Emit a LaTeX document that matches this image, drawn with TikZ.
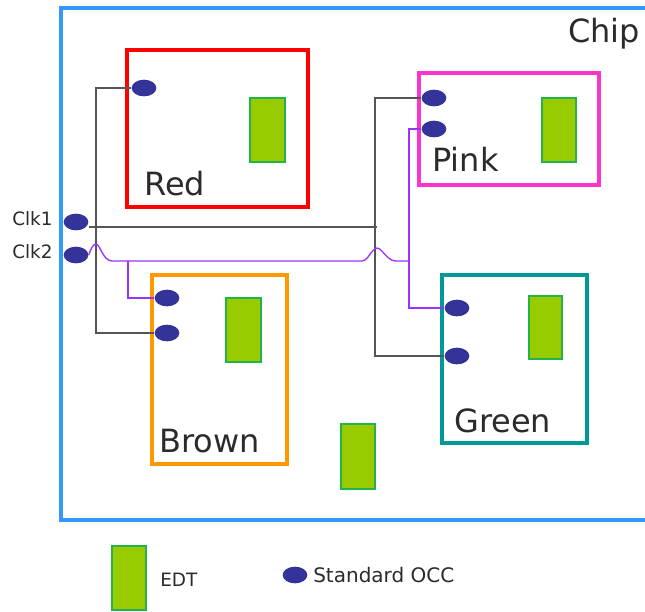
\documentclass[tikz,border=0pt]{standalone}
\usepackage{fontspec}
\setmainfont{DejaVu Sans}
\usetikzlibrary{fit,shapes.geometric}
\definecolor{chipblue}{HTML}{3399FF}
\definecolor{boxred}{HTML}{FF0000}
\definecolor{boxpink}{HTML}{FF33CC}
\definecolor{boxorange}{HTML}{FF9900}
\definecolor{boxteal}{HTML}{009999}
\definecolor{edtfill}{HTML}{99CC00}
\definecolor{edtline}{HTML}{22B34A}
\definecolor{occ}{HTML}{333399}
\definecolor{txt}{HTML}{2B2B2B}
\definecolor{wire}{HTML}{555555}
\definecolor{pwire}{HTML}{9933FF}
\tikzset{
  block/.style={draw=#1, line width=2.8pt, inner sep=0pt},
  edt/.style={draw=edtline, fill=edtfill, line width=1.4pt, inner sep=0pt},
  occdot/.style={ellipse, fill=occ, minimum width=18.5pt, minimum height=12.5pt, inner sep=0pt},
  biglabel/.style={anchor=base west, inner sep=0pt, text=txt, font=\fontsize{24}{28}\selectfont},
  smalllabel/.style={anchor=base west, inner sep=0pt, text=txt, font=\fontsize{13.8}{16}\selectfont},
  gwire/.style={draw=wire, line width=1pt},
  vwire/.style={draw=pwire, line width=1pt},
}
\begin{document}
\begin{tikzpicture}[x=0.75pt, y=-0.75pt]
\useasboundingbox (0,0) rectangle (645,611);
\fill[white] (0,0) rectangle (645,611);
% chip frame (right edge beyond picture)
\coordinate (chipTR) at (660,8);
\coordinate (chipBR) at (660,520);
\draw[chipblue, line width=2.8pt] (chipTR) -- (61,8) -- (61,520) -- (chipBR);
\node[biglabel] (chiplabel) at (568,42) {Chip};

% blocks
\node[block=boxred, fit={(127,50) (308,207)}] (red) {};
\node[block=boxpink, fit={(419,73) (599,185)}] (pink) {};
\node[block=boxorange, fit={(152,275) (287,464)}] (brown) {};
\node[block=boxteal, fit={(442,275) (587,443)}] (green) {};

\node[biglabel] (redlabel) at (144,195) {Red};
\node[biglabel] (pinklabel) at (432,171) {Pink};
\node[biglabel] (brownlabel) at (159,452) {Brown};
\node[biglabel] (greenlabel) at (454,432) {Green};

% EDTs
\node[edt, fit={(250,98) (285,162)}] (edtred) {};
\node[edt, fit={(542,98) (576,162)}] (edtpink) {};
\node[edt, fit={(226,298) (261,362)}] (edtbrown) {};
\node[edt, fit={(529,296) (562,359)}] (edtgreen) {};
\node[edt, fit={(341,424) (375,489)}] (edtlone) {};

% OCC dots
\node[occdot] (r1) at (144,88) {};
\node[occdot] (p1) at (434,98) {};
\node[occdot] (p2) at (434,129) {};
\node[occdot] (b1) at (167,298) {};
\node[occdot] (b2) at (167,333) {};
\node[occdot] (g1) at (457,308) {};
\node[occdot] (g2) at (457,356) {};
\node[occdot] (clk1) at (76,222) {};
\node[occdot] (clk2) at (76,255) {};
\node[smalllabel] (clk1label) at (12,225) {Clk1};
\node[smalllabel] (clk2label) at (12,258) {Clk2};

% Clk1 wiring
\coordinate (l1top) at (96,88);
\coordinate (l1bot) at (96,333);
\coordinate (l2top) at (375,98);
\coordinate (l2bot) at (375,356);
\coordinate (clk1end) at (377,227);
\path[gwire] (r1.west) -- (l1top) -- (l1bot) -- (b2.west);
\path[gwire] (p1.west) -- (l2top) -- (l2bot) -- (g2.west);
\path[gwire] (clk1.east |- clk1end) -- (clk1end);

% Clk2 wiring
\coordinate (pjunc) at (128,261);
\coordinate (pend) at (409,261);
\coordinate (pvtop) at (409,129);
\coordinate (pvbot) at (409,308);
\path[vwire] (clk2.east) .. controls (91,249) and (93,244) .. (96,244)
  .. controls (100,244) and (103,261) .. (112,261) -- (362,261)
  .. controls (368,261) and (372,248) .. (377,248)
  .. controls (382,248) and (387,261) .. (396,261) -- (pend);
\path[vwire] (pjunc) |- (b1.west);
\path[vwire] (p2.west) -- (pvtop) -- (pvbot) -- (g1.west);

% legend
\node[edt, fit={(112,546) (146,610)}] (legedt) {};
\node[smalllabel] (legedtlabel) at (160,586) {EDT};
\node[occdot] (legocc) at (295,575) {};
\node[smalllabel, font=\fontsize{15}{18}\selectfont] (legocclabel) at (313,582) {Standard OCC};
\end{tikzpicture}
\end{document}
